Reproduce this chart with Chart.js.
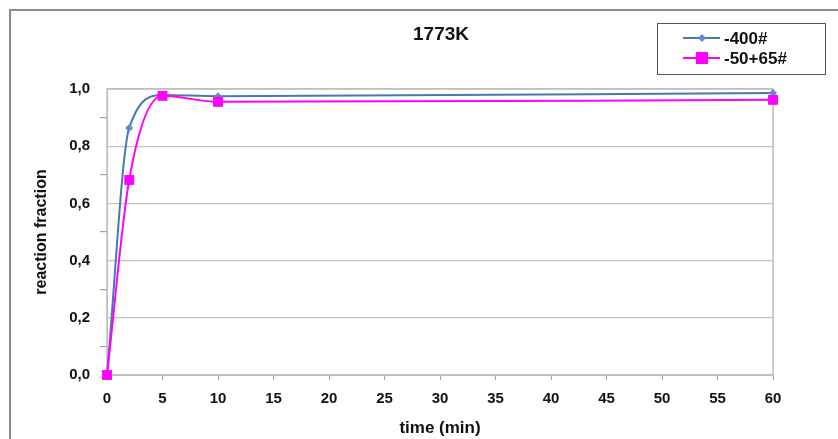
<!DOCTYPE html>
<html>
<head>
<meta charset="utf-8">
<script src="https://cdn.jsdelivr.net/npm/chart.js@4/dist/chart.umd.min.js"></script>
<style>
  body { margin: 0; background: #fff; }
  #wrap { width: 838px; height: 439px; }
</style>
</head>
<body>
<div id="wrap"><canvas id="myChart" width="838" height="439"></canvas></div>
<script>
// data
const seriesNames = ['-400#', '-50+65#'];
const timeMin = [0, 2, 5, 10, 60];
const fine400 = [0, 0.864, 0.979, 0.975, 0.986];
const coarse5065 = [0, 0.682, 0.976, 0.955, 0.962];
const xTicks = [0, 5, 10, 15, 20, 25, 30, 35, 40, 45, 50, 55, 60];
const yTicks = [0, 0.2, 0.4, 0.6, 0.8, 1.0];

const blue = '#4a78b0';
const blueMarker = '#5b8ccc';
const magenta = '#ff00ff';
const font = 'Liberation Sans, Arial, sans-serif';

function toPoints(ys) {
    return timeMin.map((t, i) => ({ x: t, y: ys[i] }));
}

// frame, title and boxed legend drawn by hand
const decor = {
    id: 'decor',
    beforeDraw(chart) {
        const c = chart.ctx;
        c.save();
        c.fillStyle = '#fff';
        c.fillRect(0, 0, chart.width, chart.height);
        c.strokeStyle = '#8c8c8c';
        c.lineWidth = 2;
        c.strokeRect(10, 10, 900, 900);
        c.restore();
    },
    beforeDatasetsDraw(chart) {
        const a = chart.chartArea;
        const c = chart.ctx;
        c.save();
        c.strokeStyle = '#bdbdbd';
        c.lineWidth = 1.5;
        c.strokeRect(a.left, a.top, a.right - a.left, a.bottom - a.top);
        c.restore();
    },
    afterDraw(chart) {
        const c = chart.ctx;
        c.save();
        c.fillStyle = '#111';
        c.font = 'bold 19px ' + font;
        c.textAlign = 'center';
        c.textBaseline = 'middle';
        c.fillText('1773K', 441, 35);

        // legend
        c.strokeStyle = '#555';
        c.lineWidth = 1;
        c.strokeRect(657.5, 23.5, 168, 51);
        const rows = [38, 58];
        chart.data.datasets.forEach((ds, i) => {
            const y = rows[i];
            c.strokeStyle = ds.borderColor;
            c.lineWidth = 2;
            c.beginPath();
            c.moveTo(683, y);
            c.lineTo(720, y);
            c.stroke();
            c.fillStyle = ds.pointBackgroundColor;
            if (i === 0) {
                c.beginPath();
                c.moveTo(702, y - 4);
                c.lineTo(706, y);
                c.lineTo(702, y + 4);
                c.lineTo(698, y);
                c.closePath();
                c.fill();
            } else {
                c.fillRect(696, y - 6, 12, 12);
            }
            c.fillStyle = '#111';
            c.font = 'bold 17px ' + font;
            c.textAlign = 'left';
            c.fillText(ds.label, 724, y + 1);
        });
        c.restore();
    }
};

const ctx = document.getElementById('myChart').getContext('2d');

const chart = new Chart(ctx, {
    type: 'line',
    data: {
        datasets: [{
            label: seriesNames[0],
            data: toPoints(fine400),
            order: 1,
            borderColor: blue,
            borderWidth: 2,
            pointStyle: 'rectRot',
            pointRadius: 4,
            pointBackgroundColor: blueMarker,
            pointBorderColor: blueMarker,
            pointBorderWidth: 0,
            cubicInterpolationMode: 'monotone',
            clip: false
        }, {
            label: seriesNames[1],
            data: toPoints(coarse5065),
            order: 0,
            borderColor: magenta,
            borderWidth: 2,
            pointStyle: 'rect',
            pointRadius: 7,
            pointBackgroundColor: magenta,
            pointBorderColor: magenta,
            pointBorderWidth: 0,
            cubicInterpolationMode: 'monotone',
            clip: false
        }]
    },
    options: {
        responsive: false,
        animation: false,
        layout: { padding: { left: 11, right: 65, top: 89, bottom: 0 } },
        plugins: {
            legend: { display: false },
            title: { display: false },
            tooltip: { enabled: false }
        },
        scales: {
            x: {
                type: 'linear',
                min: 0,
                max: 60,
                afterFit: s => { s.height = 64; },
                afterBuildTicks: s => { s.ticks = xTicks.map(v => ({ value: v })); },
                grid: { drawOnChartArea: false, tickLength: 5, color: '#a0a0a0' },
                border: { color: '#bdbdbd' },
                ticks: {
                    padding: 10,
                    color: '#111',
                    font: { family: font, size: 15, weight: 'bold' }
                },
                title: {
                    display: true,
                    text: 'time (min)',
                    color: '#111',
                    padding: { top: 2, bottom: 0 },
                    font: { family: font, size: 17, weight: 'bold' }
                }
            },
            y: {
                min: 0,
                max: 1,
                afterFit: s => { s.width = 96; },
                // minor ticks every 0.1, labels and grid every 0.2
                ticks: {
                    stepSize: 0.1,
                    padding: 10,
                    color: '#111',
                    font: { family: font, size: 15, weight: 'bold' },
                    callback: v => {
                        const r = Math.round(v * 10) / 10;
                        return yTicks.some(t => Math.abs(t - r) < 1e-6) ? r.toFixed(1).replace('.', ',') : '';
                    }
                },
                grid: {
                    tickLength: 7,
                    lineWidth: 1.2,
                    color: c => Math.round(c.tick.value * 10) % 2 === 0 ? '#c4c4c4' : 'rgba(0,0,0,0)',
                    tickColor: c => Math.round(c.tick.value * 10) % 2 === 0 ? 'rgba(0,0,0,0)' : '#a0a0a0'
                },
                border: { color: '#bdbdbd' },
                title: {
                    display: true,
                    text: 'reaction fraction',
                    color: '#111',
                    padding: { top: 21, bottom: 0 },
                    font: { family: font, size: 16, weight: 'bold' }
                }
            }
        }
    },
    plugins: [decor]
});
</script>
</body>
</html>
